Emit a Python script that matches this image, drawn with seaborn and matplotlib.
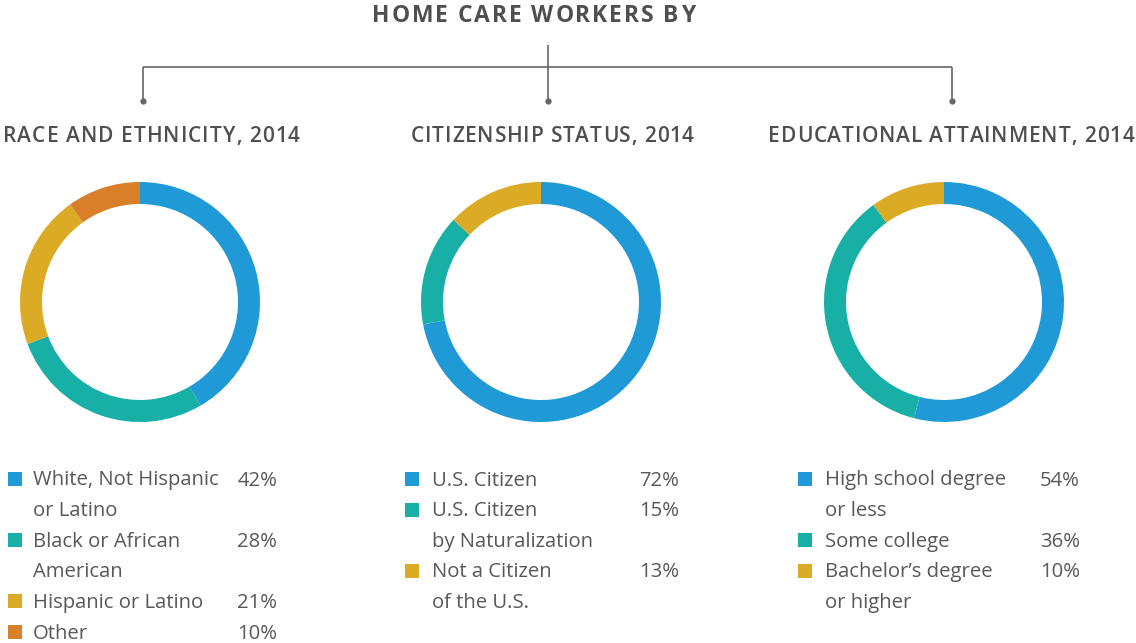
import matplotlib
matplotlib.use("Agg")
import matplotlib.pyplot as plt
from matplotlib.patches import Rectangle
import seaborn as sns

sns.set_theme(style="white")
plt.rcParams['font.family'] = ['Open Sans', 'DejaVu Sans']

# ---- data ----
title = "HOME CARE WORKERS BY"
panel_titles = ["RACE AND ETHNICITY, 2014", "CITIZENSHIP STATUS, 2014", "EDUCATIONAL ATTAINMENT, 2014"]

race_labels = ["White, Not Hispanic\nor Latino", "Black or African\nAmerican", "Hispanic or Latino", "Other"]
race_values = [42, 28, 21, 10]

citizen_labels = ["U.S. Citizen", "U.S. Citizen\nby Naturalization", "Not a Citizen\nof the U.S."]
citizen_values = [72, 15, 13]

edu_labels = ["High school degree\nor less", "Some college", "Bachelor\u2019s degree\nor higher"]
edu_values = [54, 36, 10]

palette = ["#1f9ad7", "#17afa6", "#dcab26", "#d97f2a"]
TEXT = "#58585a"
HEAD = "#4f4f51"
LINE = "#666666"

W, H = 1136, 643
fig = plt.figure(figsize=(W / 100, H / 100), dpi=100)
fig.patch.set_facecolor("white")

panels = [
    dict(cx=140, cy=302, labels=race_labels, values=race_values, tx0=3, tx1=300,
         sq_x=8, txt_x=33, pct_x=277),
    dict(cx=541, cy=302, labels=citizen_labels, values=citizen_values, tx0=411, tx1=694,
         sq_x=405, txt_x=432, pct_x=679),
    dict(cx=944, cy=302, labels=edu_labels, values=edu_values, tx0=768, tx1=1134,
         sq_x=798, txt_x=825, pct_x=1080),
]

R = 120
RING = 22
for p in panels:
    ax = fig.add_axes([(p["cx"] - R) / W, (H - p["cy"] - R) / H, 2 * R / W, 2 * R / H])
    ax.pie(p["values"], colors=palette[:len(p["values"])], startangle=90, counterclock=False,
           radius=1, wedgeprops=dict(width=RING / R, edgecolor="none"))
    ax.set_xlim(-1, 1)
    ax.set_ylim(-1, 1)
    ax.set_aspect("auto")
    ax.axis("off")

# overlay axis in pixel coordinates
ov = fig.add_axes([0, 0, 1, 1])
ov.set_xlim(0, W)
ov.set_ylim(H, 0)
ov.axis("off")
ov.patch.set_alpha(0)

renderer = fig.canvas.get_renderer()


def spaced_text(s, x0, x1, y, **kw):
    """Draw text char by char, stretched with letter spacing to span x0..x1 (pixels)."""
    widths = []
    for ch in s:
        if ch == " ":
            t = ov.text(0, 0, "a a", **kw)
            w_full = t.get_window_extent(renderer).width
            t.remove()
            t = ov.text(0, 0, "aa", **kw)
            w = w_full - t.get_window_extent(renderer).width
            t.remove()
        else:
            t = ov.text(0, 0, ch, **kw)
            w = t.get_window_extent(renderer).width
            t.remove()
        widths.append(w)
    natural = sum(widths)
    gap = (x1 - x0 - natural) / max(len(s) - 1, 1)
    x = x0
    for ch, w in zip(s, widths):
        if ch != " ":
            ov.text(x, y, ch, ha="left", va="baseline", **kw)
        x += w + gap


spaced_text(title, 372, 695, 22, fontsize=16.5, fontweight="bold", color=HEAD)

# bracket
ov.plot([548, 548], [45, 67], color=LINE, lw=1.2, solid_capstyle="butt")
ov.plot([143, 952], [67, 67], color=LINE, lw=1.2, solid_capstyle="butt")
for x in [143, 548, 952]:
    ov.plot([x, x], [67, 101], color=LINE, lw=1.2, solid_capstyle="butt")
    ov.plot([x], [101], marker="o", markersize=3.5, color=LINE)

pitch = 30.6
for p, t in zip(panels, panel_titles):
    spaced_text(t, p["tx0"], p["tx1"], 142, fontsize=15, fontweight="semibold", color=HEAD)
    y = 479
    for i, (lab, val) in enumerate(zip(p["labels"], p["values"])):
        ov.add_patch(Rectangle((p["sq_x"], y - 7), 14, 14, color=palette[i], lw=0))
        lines = lab.split("\n")
        for j, ln in enumerate(lines):
            ov.text(p["txt_x"], y + 1.5 + j * pitch, ln, ha="left", va="center", fontsize=14.6,
                    color=TEXT)
        ov.text(p["pct_x"], y + 1.5, f"{val}%", ha="right", va="center", fontsize=14.6, color=TEXT)
        y += pitch * len(lines)

fig.savefig("out.png", dpi=100, facecolor="white")
